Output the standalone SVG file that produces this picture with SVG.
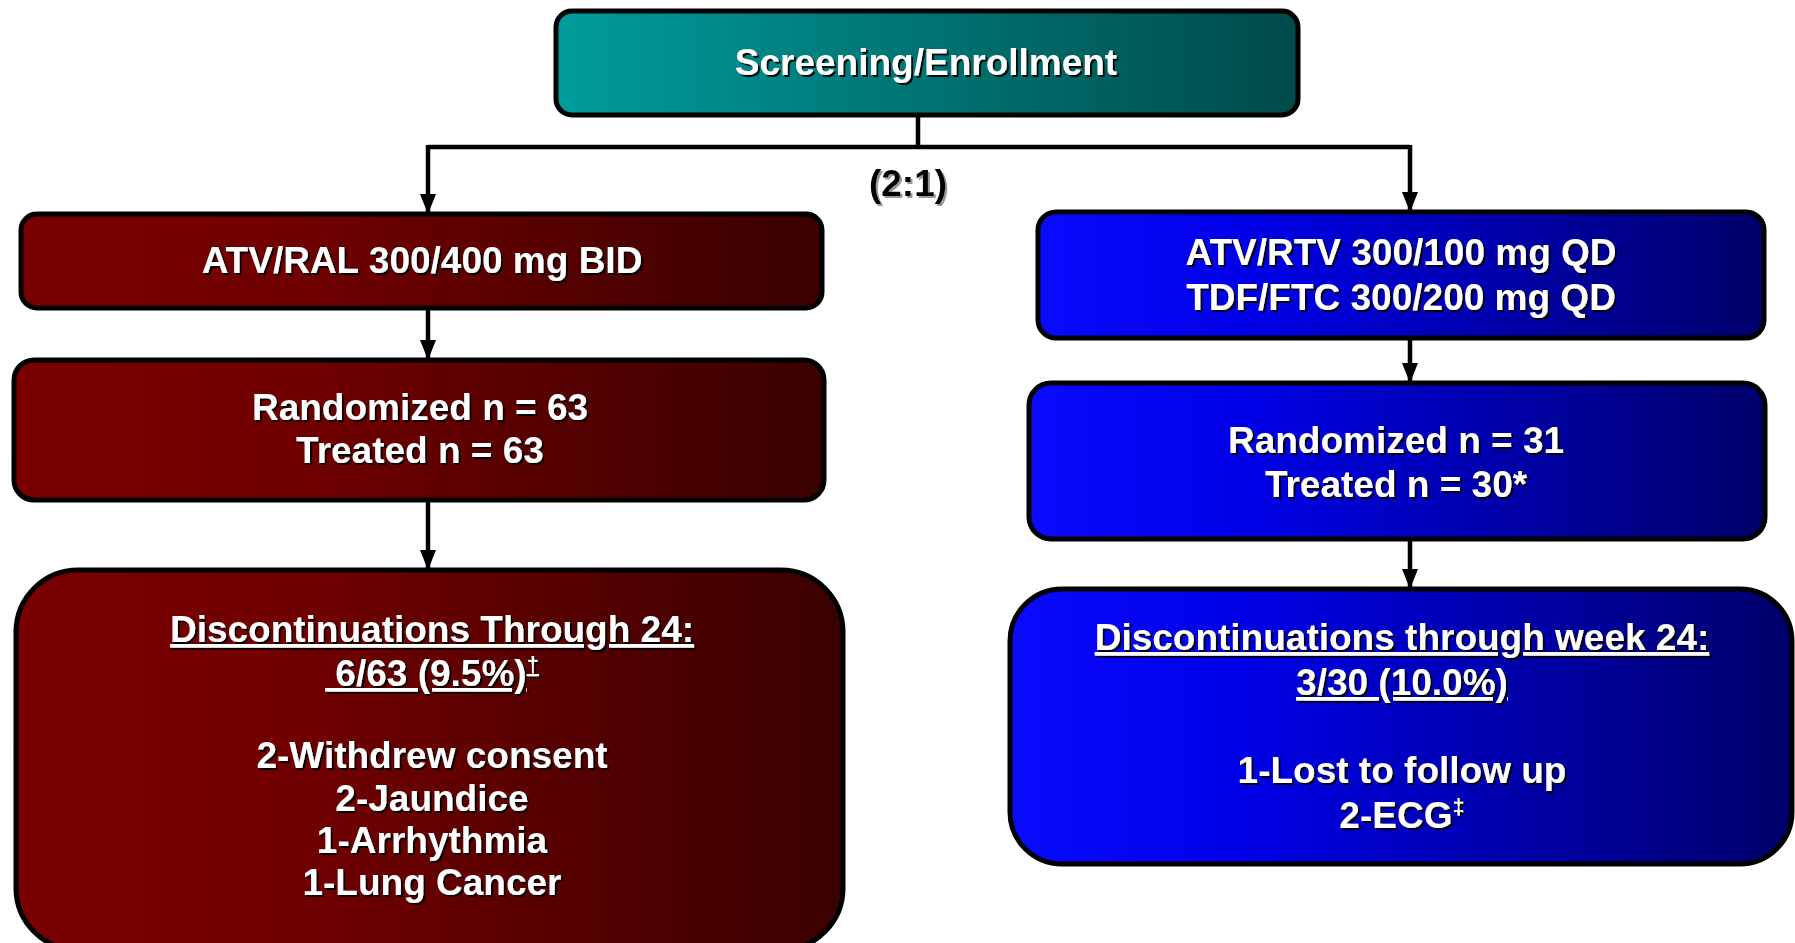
<svg xmlns="http://www.w3.org/2000/svg" width="1795" height="943" viewBox="0 0 1795 943">
  <defs>
    <linearGradient id="gTeal" x1="0" y1="0" x2="1" y2="0">
      <stop offset="0" stop-color="#009c9c"/>
      <stop offset="1" stop-color="#004a4a"/>
    </linearGradient>
    <linearGradient id="gRed" x1="0" y1="0" x2="1" y2="0">
      <stop offset="0" stop-color="#7a0000"/>
      <stop offset="0.35" stop-color="#700000"/>
      <stop offset="1" stop-color="#3a0000"/>
    </linearGradient>
    <linearGradient id="gBlue" x1="0" y1="0" x2="1" y2="0">
      <stop offset="0" stop-color="#0a0aff"/>
      <stop offset="0.3" stop-color="#0000e6"/>
      <stop offset="1" stop-color="#00006a"/>
    </linearGradient>
    <filter id="shadow" x="-10%" y="-30%" width="120%" height="160%">
      <feDropShadow dx="2" dy="2" stdDeviation="0.4" flood-color="#000" flood-opacity="0.9"/>
    </filter>
    <filter id="shadowGrey" x="-10%" y="-30%" width="120%" height="160%">
      <feDropShadow dx="2" dy="2" stdDeviation="0.4" flood-color="#999" flood-opacity="1"/>
    </filter>
    <marker id="arrow" markerUnits="userSpaceOnUse" markerWidth="18" markerHeight="20" refX="8" refY="18" orient="0" viewBox="0 0 16 20">
      <path d="M0,0 L16,0 L8,20 Z" fill="#000"/>
    </marker>
    <style>
      .box { stroke: #000; stroke-width: 5; }
      .lbl { font-family: "Liberation Sans", Arial, sans-serif; font-weight: bold; font-size: 37px; fill: #fff; text-anchor: middle; filter: url(#shadow); }
      .dark { fill: #000; filter: url(#shadowGrey); }
      .ul { text-decoration: underline; }
      .conn { stroke: #000; stroke-width: 4.5; fill: none; }
      .sup { font-size: 22px; }
    </style>
  </defs>

  <g id="connectors">
    <path class="conn" d="M918,116 V147 M428,147 H1410"/>
    <path class="conn" d="M428,145 V212" marker-end="url(#arrow)"/>
    <path class="conn" d="M1410,145 V210" marker-end="url(#arrow)"/>
    <path class="conn" d="M428,308 V358" marker-end="url(#arrow)"/>
    <path class="conn" d="M428,500 V568" marker-end="url(#arrow)"/>
    <path class="conn" d="M1410,338 V381" marker-end="url(#arrow)"/>
    <path class="conn" d="M1410,539 V587" marker-end="url(#arrow)"/>
    <text class="lbl dark" x="908" y="196">(2:1)</text>
  </g>

  <g id="screening">
    <rect class="box" x="556" y="11" width="742" height="104" rx="16" fill="url(#gTeal)"/>
    <text class="lbl" x="926" y="75">Screening/Enrollment</text>
  </g>

  <g id="atv-ral">
    <rect class="box" x="21" y="214" width="801" height="94" rx="16" fill="url(#gRed)"/>
    <text class="lbl" x="422" y="273">ATV/RAL 300/400 mg BID</text>
  </g>

  <g id="left-randomized">
    <rect class="box" x="14" y="360" width="810" height="140" rx="20" fill="url(#gRed)"/>
    <text class="lbl" x="420" y="420">Randomized n = 63</text>
    <text class="lbl" x="420" y="463">Treated n = 63</text>
  </g>

  <g id="left-discontinuations">
    <rect class="box" x="16" y="570" width="827" height="380" rx="62" fill="url(#gRed)"/>
    <text class="lbl ul" x="432" y="642">Discontinuations Through 24:</text>
    <text class="lbl ul" x="432" y="686" xml:space="preserve"> 6/63 (9.5%)<tspan class="sup" dy="-14">†</tspan></text>
    <text class="lbl" x="432" y="768">2-Withdrew consent</text>
    <text class="lbl" x="432" y="811">2-Jaundice</text>
    <text class="lbl" x="432" y="853">1-Arrhythmia</text>
    <text class="lbl" x="432" y="895">1-Lung Cancer</text>
  </g>

  <g id="atv-rtv">
    <rect class="box" x="1038" y="212" width="726" height="126" rx="18" fill="url(#gBlue)"/>
    <text class="lbl" x="1401" y="265">ATV/RTV 300/100 mg QD</text>
    <text class="lbl" x="1401" y="310">TDF/FTC 300/200 mg QD</text>
  </g>

  <g id="right-randomized">
    <rect class="box" x="1029" y="383" width="736" height="156" rx="22" fill="url(#gBlue)"/>
    <text class="lbl" x="1396" y="453">Randomized n = 31</text>
    <text class="lbl" x="1396" y="497">Treated n = 30*</text>
  </g>

  <g id="right-discontinuations">
    <rect class="box" x="1010" y="589" width="782" height="275" rx="52" fill="url(#gBlue)"/>
    <text class="lbl ul" x="1402" y="650">Discontinuations through week 24:</text>
    <text class="lbl ul" x="1402" y="695">3/30 (10.0%)</text>
    <text class="lbl" x="1402" y="783">1-Lost to follow up</text>
    <text class="lbl" x="1402" y="828">2-ECG<tspan class="sup" dy="-14">‡</tspan></text>
  </g>
</svg>
